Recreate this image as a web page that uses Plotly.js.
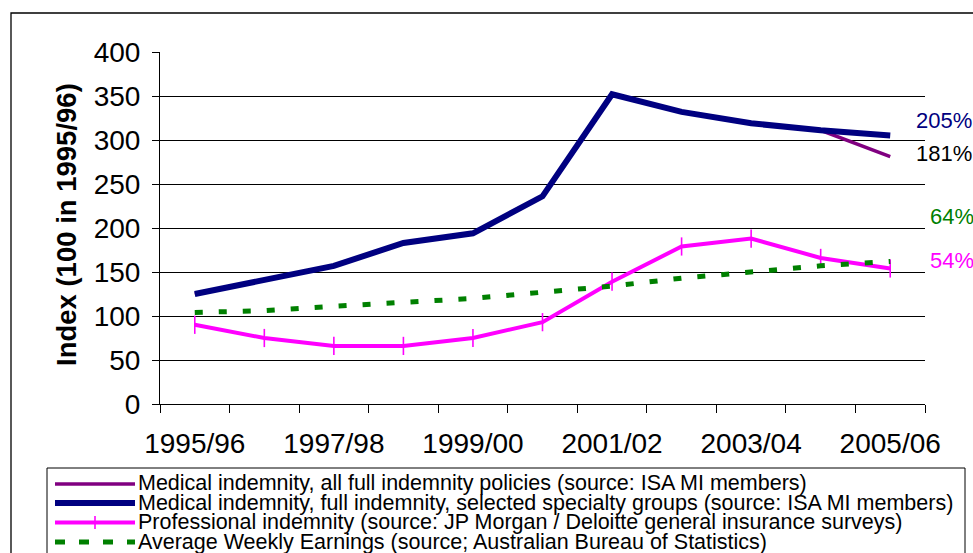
<!DOCTYPE html>
<html>
<head>
<meta charset="utf-8">
<script src="https://cdn.plot.ly/plotly-3.0.1.min.js"></script>
<style>
  html, body { margin: 0; padding: 0; background: #ffffff; }
  #chart { width: 973px; height: 553px; }
</style>
</head>
<body>
<div id="chart"></div>
<script>
// ---- data ----
const categories = ['1995/96','1996/97','1997/98','1998/99','1999/00','2000/01','2001/02','2002/03','2003/04','2004/05','2005/06'];
const medicalAll = [125, 141, 157, 183, 194, 236, 352, 332, 319, 311, 281];
const medicalSpecialty = [125, 141, 157, 183, 194, 236, 352, 332, 319, 311, 305];
const professional = [90, 75, 66, 66, 75, 93, 139, 179, 188, 166, 154];
const earnings = [104, 106, 111, 116, 120, 127, 134, 143, 150, 157, 162];
const seriesNames = [
  'Medical indemnity, all full indemnity policies (source: ISA MI members)',
  'Medical indemnity, full indemnity, selected specialty groups (source: ISA MI members)',
  'Professional indemnity (source: JP Morgan / Deloitte general insurance surveys)',
  'Average Weekly Earnings (source; Australian Bureau of Statistics)'
];
const endLabels = ['205%', '181%', '64%', '54%'];
const yTitle = 'Index (100 in 1995/96)';

// ---- layout helpers (pixel -> paper) ----
const L = 160, R = 925, T = 52, B = 404;
const px = x => (x - L) / (R - L);
const py = y => (B - y) / (B - T);
const FONT = 'Liberation Sans, Arial, sans-serif';

const cNavy = '#000080', cPurple = '#800080', cMag = '#FF00FF', cGreen = '#008000';

const traces = [
  { x: categories, y: medicalAll, name: seriesNames[0], type: 'scatter', mode: 'lines',
    line: { color: cPurple, width: 3.5 } },
  { x: categories, y: medicalSpecialty, name: seriesNames[1], type: 'scatter', mode: 'lines',
    line: { color: cNavy, width: 6 } },
  { x: categories, y: professional, name: seriesNames[2], type: 'scatter', mode: 'lines+markers',
    line: { color: cMag, width: 4 },
    marker: { symbol: 'line-ns', size: 13, color: cMag, line: { color: cMag, width: 1.6 } } },
  { x: categories, y: earnings, name: seriesNames[3], type: 'scatter', mode: 'lines',
    line: { color: cGreen, width: 5, dash: '8px,16px' } }
];

const shapes = [];
const annotations = [];

// outer chart border
shapes.push({ type: 'rect', xref: 'paper', yref: 'paper', x0: px(11), x1: px(990), y0: py(13), y1: py(570),
  line: { color: '#000', width: 1.3 }, fillcolor: 'rgba(0,0,0,0)', layer: 'below' });

// legend box
shapes.push({ type: 'rect', xref: 'paper', yref: 'paper', x0: px(47), x1: px(965), y0: py(468), y1: py(570),
  line: { color: '#000', width: 1 }, fillcolor: 'rgba(0,0,0,0)' });

const rowY = [484, 503, 522.5, 542];
const legStyles = [
  { color: cPurple, width: 3.5 },
  { color: cNavy, width: 6 },
  { color: cMag, width: 4 },
  { color: cGreen, width: 5, dash: '10px,14px' }
];
for (let i = 0; i < 4; i++) {
  shapes.push({ type: 'line', xref: 'paper', yref: 'paper', x0: px(55), x1: px(135), y0: py(rowY[i]), y1: py(rowY[i]),
    line: legStyles[i] });
}
// legend texts: one block, small base size for tight line spacing, larger glyphs per line
annotations.push({ xref: 'paper', yref: 'paper', x: px(137), y: py(470), xanchor: 'left', yanchor: 'top',
  align: 'left', borderpad: 0,
  text: seriesNames.map(s => '<span style="font-size:21.5px">' + s + '</span>').join('<br>'),
  showarrow: false, font: { family: FONT, size: 15, color: '#000' } });
// magenta tick on legend sample
shapes.push({ type: 'line', xref: 'paper', yref: 'paper', x0: px(95), x1: px(95), y0: py(rowY[2] - 6.5), y1: py(rowY[2] + 6.5),
  line: { color: cMag, width: 1.6 } });

// end labels
const endPos = [[914, 120, cNavy], [914, 153, '#000'], [928, 216, cGreen], [928, 260, cMag]];
for (let i = 0; i < 4; i++) {
  annotations.push({ xref: 'paper', yref: 'paper', x: px(endPos[i][0]), y: py(endPos[i][1]), xanchor: 'left', yanchor: 'middle',
    text: endLabels[i], showarrow: false, font: { family: FONT, size: 22, color: endPos[i][2] } });
}

// y axis title
annotations.push({ xref: 'paper', yref: 'paper', x: px(66), y: py(225), xanchor: 'center', yanchor: 'middle',
  text: yTitle, textangle: -90, showarrow: false, font: { family: FONT, size: 27.5, color: '#000', weight: 'bold' } });

const layout = {
  width: 973, height: 553,
  margin: { l: L, r: 973 - R, t: T, b: 553 - B, pad: 0 },
  paper_bgcolor: '#ffffff', plot_bgcolor: '#ffffff',
  showlegend: false,
  font: { family: FONT, color: '#000' },
  xaxis: {
    type: 'category',
    range: [-0.5, 10.5],
    tickmode: 'array',
    tickvals: categories,
    ticktext: categories.map((c, i) => (i % 2 === 0 ? c : '')),
    tickson: 'boundaries',
    tickangle: 0,
    ticks: 'outside', ticklen: 8, tickwidth: 1, tickcolor: '#000',
    showline: true, linecolor: '#000', linewidth: 1,
    showgrid: false, zeroline: false,
    tickfont: { family: FONT, size: 28, color: '#000' },
    ticklabelstandoff: 14,
    fixedrange: true
  },
  yaxis: {
    range: [0, 400], dtick: 50, tick0: 0,
    ticks: 'outside', ticklen: 7, tickwidth: 1, tickcolor: '#000',
    showline: true, linecolor: '#000', linewidth: 1,
    showgrid: true, gridcolor: '#000', gridwidth: 1,
    zeroline: false,
    tickfont: { family: FONT, size: 28, color: '#000' },
    ticklabelstandoff: 6,
    fixedrange: true
  },
  shapes: shapes,
  annotations: annotations
};

Plotly.newPlot('chart', traces, layout, { staticPlot: true, displayModeBar: false });
</script>
</body>
</html>
